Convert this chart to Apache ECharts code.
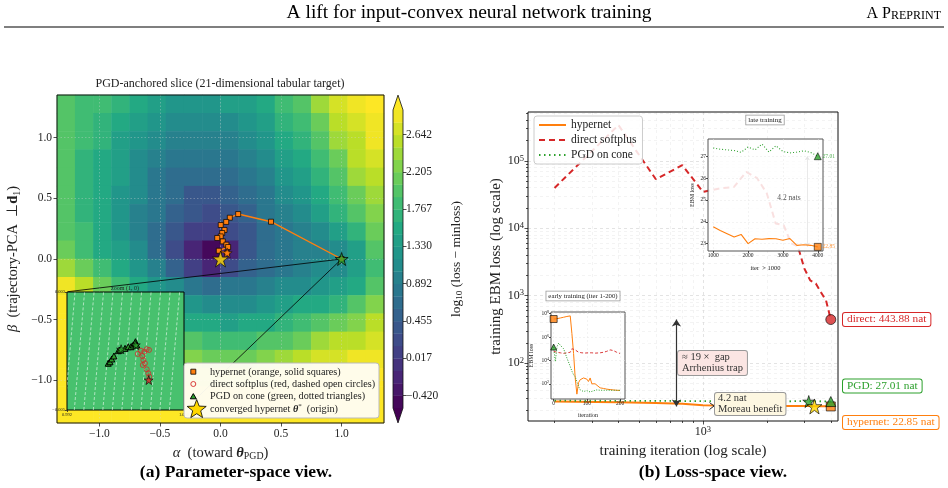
<!DOCTYPE html>
<html>
<head>
<meta charset="utf-8">
<script src="https://cdn.jsdelivr.net/npm/echarts@6/dist/echarts.min.js"></script>
<style>
  html, body { margin: 0; padding: 0; background: #fff; }
  #chart { width: 948px; height: 488px; }
</style>
</head>
<body>
<div id="chart"></div>
<script>
// ---------- panel (a): loss landscape, log10(loss - minloss) ----------
const alphaCenters = [-1.275, -1.125, -0.975, -0.825, -0.675, -0.525, -0.375, -0.225, -0.075,
                      0.075, 0.225, 0.375, 0.525, 0.675, 0.825, 0.975, 1.125, 1.275];
const betaCenters = [1.275, 1.125, 0.975, 0.825, 0.675, 0.525, 0.375, 0.225, 0.075,
                     -0.075, -0.225, -0.375, -0.525, -0.675, -0.825, -0.975, -1.125, -1.275];
// rows from top (beta = 1.275) to bottom, columns from left (alpha = -1.275) to right
const lossField = [
  [2.0, 1.9, 1.8, 1.65, 1.5, 1.4, 1.3, 1.3, 1.3, 1.35, 1.45, 1.6, 1.8, 2.05, 2.35, 2.65, 2.85, 2.95],
  [1.95, 1.85, 1.7, 1.55, 1.35, 1.2, 1.1, 1.05, 1.1, 1.15, 1.3, 1.45, 1.65, 1.9, 2.2, 2.5, 2.75, 2.9],
  [1.95, 1.8, 1.65, 1.45, 1.25, 1.05, 0.95, 0.9, 0.9, 1.0, 1.15, 1.3, 1.5, 1.75, 2.05, 2.35, 2.6, 2.85],
  [1.95, 1.75, 1.6, 1.4, 1.15, 0.95, 0.85, 0.75, 0.75, 0.85, 1.0, 1.15, 1.35, 1.6, 1.9, 2.2, 2.5, 2.75],
  [1.95, 1.75, 1.55, 1.35, 1.1, 0.85, 0.7, 0.6, 0.6, 0.7, 0.85, 1.0, 1.2, 1.45, 1.75, 2.05, 2.35, 2.6],
  [1.95, 1.75, 1.55, 1.3, 1.05, 0.8, 0.6, 0.45, 0.45, 0.55, 0.7, 0.85, 1.05, 1.3, 1.55, 1.85, 2.15, 2.45],
  [2.0, 1.75, 1.55, 1.3, 1.0, 0.75, 0.55, 0.35, 0.3, 0.4, 0.55, 0.75, 0.9, 1.1, 1.35, 1.65, 1.95, 2.3],
  [2.05, 1.8, 1.55, 1.3, 1.0, 0.7, 0.45, 0.15, 0.05, 0.2, 0.45, 0.65, 0.8, 0.95, 1.15, 1.4, 1.75, 2.1],
  [2.15, 1.85, 1.6, 1.35, 1.05, 0.7, 0.3, -0.2, -0.5, -0.15, 0.35, 0.6, 0.75, 0.9, 1.0, 1.15, 1.45, 1.95],
  [2.45, 2.1, 1.8, 1.5, 1.2, 0.9, 0.55, 0.15, -0.2, 0.2, 0.5, 0.7, 0.85, 0.95, 1.05, 1.1, 1.35, 1.85],
  [2.8, 2.5, 2.15, 1.85, 1.55, 1.3, 1.05, 0.8, 0.65, 0.75, 0.85, 0.95, 1.05, 1.15, 1.25, 1.35, 1.6, 2.0],
  [2.95, 2.8, 2.55, 2.25, 1.95, 1.65, 1.4, 1.2, 1.1, 1.1, 1.15, 1.25, 1.35, 1.5, 1.6, 1.75, 1.95, 2.25],
  [2.95, 2.95, 2.8, 2.55, 2.3, 2.05, 1.8, 1.6, 1.5, 1.45, 1.5, 1.6, 1.7, 1.85, 2.0, 2.15, 2.3, 2.5],
  [2.95, 2.95, 2.95, 2.8, 2.6, 2.4, 2.15, 1.95, 1.85, 1.8, 1.85, 1.95, 2.05, 2.2, 2.35, 2.5, 2.6, 2.75],
  [2.95, 2.95, 2.95, 2.95, 2.85, 2.65, 2.45, 2.3, 2.2, 2.15, 2.2, 2.3, 2.4, 2.55, 2.65, 2.75, 2.85, 2.9],
  [2.95, 2.95, 2.95, 2.95, 2.95, 2.85, 2.7, 2.6, 2.5, 2.5, 2.5, 2.6, 2.7, 2.8, 2.85, 2.9, 2.95, 2.95],
  [2.95, 2.95, 2.95, 2.95, 2.95, 2.95, 2.9, 2.85, 2.8, 2.8, 2.8, 2.85, 2.9, 2.95, 2.95, 2.95, 2.95, 2.95],
  [2.95, 2.95, 2.95, 2.95, 2.95, 2.95, 2.95, 2.95, 2.95, 2.95, 2.95, 2.95, 2.95, 2.95, 2.95, 2.95, 2.95, 2.95]
];
const paramTicks = [-1, -0.5, 0, 0.5, 1];
const cbTicks = [-0.420, 0.017, 0.455, 0.892, 1.330, 1.767, 2.205, 2.642];

// hypernet trajectory (alpha, beta), from the PGD point toward the origin
const hyperPath = [[1.0, 0.0], [0.417, 0.307], [0.146, 0.370], [0.077, 0.340], [0.047, 0.305],
  [0.002, 0.280], [0.033, 0.239], [0.014, 0.214], [0.002, 0.186], [-0.027, 0.173], [0.019, 0.145],
  [0.049, 0.118], [0.063, 0.099], [-0.014, 0.068], [0.055, 0.049]];
const convergedStar = [0, 0];
const hyperEndStar = [0.055, 0.05];
const pgdStar = [1, 0];

// zoom inset around (1, 0)
const zoomPgd = [[0.99482, -0.00183], [0.99494, -0.00173], [0.99506, -0.00154], [0.99521, -0.00134],
  [0.99551, -0.00098], [0.99562, -0.00093], [0.99597, -0.00082], [0.99619, -0.00071], [0.99638, -0.00071],
  [0.99653, -0.00059], [0.99665, -0.00048], [0.99668, -0.00037], [0.99677, -0.00059]];
const zoomPgdStars = [[0.99570, -0.00088], [0.99670, -0.00059]];
const zoomDirect = [[0.99761, -0.00093], [0.99745, -0.00088], [0.99729, -0.00105], [0.99706, -0.00098],
  [0.99684, -0.00120], [0.99715, -0.00134], [0.99722, -0.00161], [0.99733, -0.00183], [0.99718, -0.00195],
  [0.99745, -0.00224], [0.99756, -0.00251], [0.99763, -0.00274]];
const zoomDirectStar = [0.99759, -0.00297];
const zoomContours = [0.99185, 0.9925, 0.99315, 0.9938, 0.99445, 0.9951, 0.99575, 0.9964, 0.99705, 0.9977, 0.99835, 0.999];

// ---------- panel (b): training curves ----------
const iterMain = [200, 400, 600, 800, 1000, 1200, 1400, 1600, 1800, 2000, 2200, 2400, 2600, 2800, 3000, 3200, 3400, 3600, 3800, 4000];
const hyperLoss = [27, 26.3, 25.6, 25, 23.77, 23.6, 23.45, 23.3, 23.42, 23.0, 23.22, 23.2, 23.23, 23.22, 23.15, 23.23, 22.92, 22.95, 22.92, 22.85];
const directLoss = [39700, 339000, 53400, 86300, 34600, 39000, 41000, 68700, 55300, 32800, 11800, 11100, 6000, 5400, 2550, 1690, 1520, 1120, 850, 443.88];
const pgdLoss = [27.8, 27.7, 27.6, 27.5, 27.39, 27.33, 27.3, 27.27, 27.19, 27.43, 27.3, 27.57, 27.2, 27.49, 27.23, 27.16, 27.2, 27.26, 27.18, 27.01];

const iterEarly = [0, 5, 10, 15, 20, 30, 40, 50, 55, 60, 65, 70, 75, 80, 85, 90, 95, 100, 105, 110, 115, 120, 125, 130, 140, 150, 160, 170, 180, 190, 200];
const hyperEarly = [3.5e7, 3.6e7, 3.8e7, 4.0e7, 4.3e7, 5.0e7, 5.8e7, 6.5e7, 2e6, 4e4, 300, 13, 126, 224, 200, 316, 447, 251, 158, 316, 100, 71, 100, 71, 45, 40, 35, 32, 30, 28, 27];
const directEarly = [6e4, 6e4, 5e4, 4.5e4, 4.5e4, 4e4, 4.5e4, 5e4, 1e5, 1.2e5, 8e4, 6e4, 5e4, 5e4, 4.5e4, 4.5e4, 4.3e4, 4.2e4, 4.5e4, 5e4, 4.5e4, 4.2e4, 4.2e4, 4.3e4, 4.5e4, 5e4, 6e4, 8e4, 7e4, 5e4, 39700];
const pgdEarly = [1.4e5, 8e3, 1.5e5, 3e5, 2e5, 1e5, 1.6e4, 3e3, 1.2e3, 600, 400, 150, 60, 30, 25, 22, 24, 26, 22, 20, 17, 25, 28, 30, 28, 28, 28, 27.8, 27.8, 27.8, 27.8];

const xMajor = [1000];
const xMinor = [200, 300, 400, 500, 600, 700, 800, 900, 2000, 3000, 4000];
const yMajor = [100, 1000, 10000, 100000];
const earlyYTicks = [100, 1e4, 1e6, 1e8];
const earlyXTicks = [0, 100, 200];
const lateXTicks = [1000, 2000, 3000, 4000];
const lateYTicks = [23, 24, 25, 26, 27];

const gapIter = 750;      // x of the "19x gap" arrow
const lateGapIter = 3700; // x of the "4.2 nats" arrow
const pgdStarIter = 3150, hyperStarIter = 3350;

// ---------- style helpers ----------
const FONT = '"Liberation Serif", "Times New Roman", serif';
const INK = '#222';
const ORANGE = '#ff7f0e', RED = '#d62728', GREEN = '#2ca02c', GOLD = '#ffd700';
const STAR = 'path://M50,2L61.8,37.6L99,37.6L68.9,59.4L80.4,95L50,73L19.6,95L31.1,59.4L1,37.6L38.2,37.6Z';

const viridisStops = ['#440154', '#482475', '#414487', '#355f8d', '#2a788e', '#21918c',
                      '#22a884', '#44bf70', '#7ad151', '#bddf26', '#fde725'];
function viridis(t) {
  t = Math.max(0, Math.min(1, t));
  const p = t * 10, i = Math.min(9, Math.floor(p)), f = p - i;
  const a = viridisStops[i], b = viridisStops[i + 1];
  const ch = (h, k) => parseInt(h.slice(1 + 2 * k, 3 + 2 * k), 16);
  const c = [0, 1, 2].map(k => Math.round(ch(a, k) + (ch(b, k) - ch(a, k)) * f));
  return 'rgb(' + c.join(',') + ')';
}
// contour levels of the colour bar: three bands between labelled ticks
const levelStep = (cbTicks[1] - cbTicks[0]) / 3;
const levels = [];
for (let k = 0; k <= 24; k++) levels.push(cbTicks[0] - levelStep + k * levelStep);
const bandColors = levels.slice(0, -1).map((_, k) => viridis((k + 0.5) / 24));
const pieces = [{ lt: levels[0], color: viridis(0) }]
  .concat(bandColors.map((c, k) => ({ gte: levels[k], lt: levels[k + 1], color: c })))
  .concat([{ gte: levels[24], color: viridis(1) }]);

const heatData = [];
lossField.forEach((row, r) => row.forEach((v, c) => heatData.push([c, r, v])));

const yMinor = [];
[10, 100, 1000, 10000, 100000].forEach(d => {
  for (let m = 2; m <= 9; m++) if (d * m > 13.9 && d * m < 5.3e5) yMinor.push(d * m);
});

const pair = (xs, ys) => xs.map((x, i) => [x, ys[i]]);
const signed = (v, n) => (v < 0 ? '−' : '') + Math.abs(v).toFixed(n);
const pow10 = v => '10{sup|' + Math.round(Math.log10(v)) + '}';
const supRich = size => ({ sup: { fontFamily: FONT, fontSize: size, verticalAlign: 'top', lineHeight: size, color: INK } });

function starPts(cx, cy, R) {
  const pts = [];
  for (let i = 0; i < 10; i++) {
    const a = -Math.PI / 2 + i * Math.PI / 5, rr = i % 2 === 0 ? R : R * 0.42;
    pts.push([cx + rr * Math.cos(a), cy + rr * Math.sin(a)]);
  }
  return pts;
}

const tick = (vals, len) => ({ show: true, customValues: vals, length: len, lineStyle: { color: INK, width: 0.8 } });
const label = (vals, fmt, size, margin, extra) => Object.assign({
  show: true, customValues: vals, formatter: fmt, color: INK, fontFamily: FONT, fontSize: size, margin: margin
}, extra || {});
const noLine = { show: false, onZero: false };
const grid = o => Object.assign({ containLabel: false, outerBoundsMode: 'none' }, o);
const mathRich = size => ({
  i: { fontFamily: FONT, fontSize: size, fontStyle: 'italic', color: INK },
  b: { fontFamily: FONT, fontSize: size, fontWeight: 'bold', color: INK },
  bi: { fontFamily: FONT, fontSize: size, fontStyle: 'italic', fontWeight: 'bold', color: INK },
  s: { fontFamily: FONT, fontSize: size * 0.68, verticalAlign: 'bottom', lineHeight: size * 0.68, color: INK }
});

const chart = echarts.init(document.getElementById('chart'), null, { renderer: 'canvas' });

const option = {
  animation: false,
  textStyle: { fontFamily: FONT },
  grid: [
    grid({ left: 57, top: 95, width: 327, height: 328, show: true, borderColor: '#111', borderWidth: 1, backgroundColor: 'transparent', z: 5 }),
    grid({ left: 57, top: 95, width: 327, height: 328 }),
    grid({ left: 393, top: 110, width: 10, height: 298 }),
    grid({ left: 67, top: 292, width: 117, height: 118, show: true, backgroundColor: '#48c16e', borderColor: '#000', borderWidth: 1, z: 8 }),
    grid({ left: 528, top: 112, width: 310, height: 309, show: true, borderColor: '#111', borderWidth: 1, backgroundColor: 'transparent', z: 5 }),
    grid({ left: 708, top: 139, width: 115, height: 112, show: true, backgroundColor: 'rgba(255,255,255,0.86)', borderColor: '#555', borderWidth: 1, z: 8 }),
    grid({ left: 551, top: 312, width: 74, height: 87, show: true, backgroundColor: 'rgba(255,255,255,0.96)', borderColor: '#555', borderWidth: 1, z: 8 })
  ],
  visualMap: [{ type: 'piecewise', show: false, seriesIndex: 0, dimension: 2, pieces: pieces }],
  legend: {
    data: ['hypernet', 'direct softplus', 'PGD on cone'],
    left: 534, top: 116, orient: 'vertical', selectedMode: false,
    itemWidth: 27, itemHeight: 12, itemGap: 3, padding: [3, 6, 3, 4],
    itemStyle: { color: 'rgba(0,0,0,0)', borderColor: 'rgba(0,0,0,0)', borderWidth: 0 },
    textStyle: { fontFamily: FONT, fontSize: 11.5, color: INK },
    backgroundColor: 'rgba(255,255,255,0.85)', borderColor: '#ccc', borderWidth: 1, borderRadius: 3, z: 10
  },
  xAxis: [
    // 0: panel (a) alpha
    { gridIndex: 0, type: 'value', min: -1.35, max: 1.35, z: 3, axisLine: noLine,
      axisTick: tick(paramTicks, 3.5), axisLabel: label(paramTicks, v => signed(v, 1), 11.5, 5),
      splitLine: { show: true, lineStyle: { color: 'rgba(215,215,215,0.5)', width: 0.7, type: [1.5, 2] } },
      name: '{i|α}  (toward {bi|θ}{s|PGD})', nameLocation: 'middle', nameGap: 19,
      nameTextStyle: { color: INK, fontFamily: FONT, fontSize: 14.5, lineHeight: 17, rich: mathRich(14.5) } },
    // 1: heatmap cells
    { gridIndex: 1, type: 'category', data: alphaCenters.map(String), show: false },
    // 2: colour bar
    { gridIndex: 2, type: 'value', min: 0, max: 1, show: false },
    // 3: zoom inset
    { gridIndex: 3, type: 'value', min: 0.992, max: 1.0, z: 9, axisLine: noLine,
      axisTick: tick([0.992, 1.0], 2), axisLabel: label([0.992, 1.0], v => v.toFixed(3), 4.5, 2),
      splitLine: { show: false } },
    // 4, 5: panel (b) iterations, major / minor
    { gridIndex: 4, type: 'log', logBase: 10, min: 150, max: 4325, position: 'bottom', axisLine: noLine,
      axisTick: tick(xMajor, 3.5), axisLabel: label(xMajor, pow10, 12, 4, { lineHeight: 14, rich: supRich(8.5) }),
      splitLine: { show: true, lineStyle: { color: '#d8d8d8', width: 0.7, type: [3, 3] } },
      name: 'training iteration (log scale)', nameLocation: 'middle', nameGap: 19,
      nameTextStyle: { color: INK, fontFamily: FONT, fontSize: 15 } },
    { gridIndex: 4, type: 'log', logBase: 10, min: 150, max: 4325, position: 'bottom', axisLine: noLine,
      axisTick: tick(xMinor, 2), axisLabel: { show: false },
      splitLine: { show: true, lineStyle: { color: '#ececec', width: 0.6, type: [3, 3] } } },
    // 6: late inset
    { gridIndex: 5, type: 'value', min: 850, max: 4150, z: 9, axisLine: noLine,
      axisTick: tick(lateXTicks, 2), axisLabel: label(lateXTicks, v => String(v), 5.5, 2),
      splitLine: { show: true, lineStyle: { color: '#e6e6e6', width: 0.5, type: [2, 2] } },
      name: 'iter  > 1000', nameLocation: 'middle', nameGap: 14,
      nameTextStyle: { color: INK, fontFamily: FONT, fontSize: 6.5 } },
    // 7: early inset
    { gridIndex: 6, type: 'value', min: -8, max: 215, z: 9, axisLine: noLine,
      axisTick: tick(earlyXTicks, 2), axisLabel: label(earlyXTicks, v => String(v), 5.5, 2),
      splitLine: { show: true, lineStyle: { color: '#e6e6e6', width: 0.5, type: [2, 2] } },
      name: 'iteration', nameLocation: 'middle', nameGap: 13,
      nameTextStyle: { color: INK, fontFamily: FONT, fontSize: 6 } }
  ],
  yAxis: [
    { gridIndex: 0, type: 'value', min: -1.35, max: 1.35, z: 3, axisLine: noLine,
      axisTick: tick(paramTicks, 3.5), axisLabel: label(paramTicks, v => signed(v, 1), 11.5, 5),
      splitLine: { show: true, lineStyle: { color: 'rgba(215,215,215,0.5)', width: 0.7, type: [1.5, 2] } },
      name: '{i|β}  (trajectory-PCA  ⊥{b|d}{s|1})', nameLocation: 'middle', nameGap: 35, nameRotate: 90,
      nameTextStyle: { color: INK, fontFamily: FONT, fontSize: 14.5, lineHeight: 17, rich: mathRich(14.5) } },
    { gridIndex: 1, type: 'category', data: betaCenters.map(String), inverse: true, show: false },
    { gridIndex: 2, type: 'value', min: levels[0], max: levels[24], position: 'right', axisLine: noLine,
      axisTick: tick(cbTicks, 3.5), axisLabel: label(cbTicks, v => signed(v, 3), 11.5, 3),
      splitLine: { show: false },
      name: 'log{s|10} (loss − minloss)', nameLocation: 'middle', nameGap: 45, nameRotate: 90,
      nameTextStyle: { color: INK, fontFamily: FONT, fontSize: 13.5, lineHeight: 16, rich: mathRich(13.5) } },
    { gridIndex: 3, type: 'value', min: -0.005, max: 0.003, z: 9, axisLine: noLine,
      axisTick: tick([-0.005, 0.003], 2), axisLabel: label([-0.005, 0.003], v => signed(v, 3), 4.5, 2),
      splitLine: { show: false } },
    { gridIndex: 4, type: 'log', logBase: 10, min: 13.9, max: 5.3e5, position: 'left', axisLine: noLine,
      axisTick: tick(yMajor, 3.5), axisLabel: label(yMajor, pow10, 12, 4, { lineHeight: 14, rich: supRich(8.5) }),
      splitLine: { show: true, lineStyle: { color: '#d8d8d8', width: 0.7, type: [3, 3] } },
      name: 'training EBM loss (log scale)', nameLocation: 'middle', nameGap: 22, nameRotate: 90,
      nameTextStyle: { color: INK, fontFamily: FONT, fontSize: 15 } },
    { gridIndex: 4, type: 'log', logBase: 10, min: 13.9, max: 5.3e5, position: 'left', axisLine: noLine,
      axisTick: tick(yMinor, 2), axisLabel: { show: false },
      splitLine: { show: true, lineStyle: { color: '#ececec', width: 0.6, type: [3, 3] } } },
    { gridIndex: 5, type: 'value', min: 22.66, max: 27.8, z: 9, axisLine: noLine,
      axisTick: tick(lateYTicks, 2), axisLabel: label(lateYTicks, v => String(v), 5.5, 2),
      splitLine: { show: true, lineStyle: { color: '#e6e6e6', width: 0.5, type: [2, 2] } },
      name: 'EBM loss', nameLocation: 'middle', nameGap: 13, nameRotate: 90,
      nameTextStyle: { color: INK, fontFamily: FONT, fontSize: 6 } },
    { gridIndex: 6, type: 'log', logBase: 10, min: 5, max: 1.4e8, z: 9, axisLine: noLine,
      axisTick: tick(earlyYTicks, 2), axisLabel: label(earlyYTicks, pow10, 5.5, 2, { lineHeight: 7, rich: supRich(4) }),
      splitLine: { show: true, lineStyle: { color: '#e6e6e6', width: 0.5, type: [2, 2] } },
      name: 'EBM loss', nameLocation: 'middle', nameGap: 17, nameRotate: 90,
      nameTextStyle: { color: INK, fontFamily: FONT, fontSize: 6 } }
  ],
  series: [
    // 0: landscape
    { type: 'heatmap', xAxisIndex: 1, yAxisIndex: 1, data: heatData, z: 1, silent: true,
      itemStyle: { borderWidth: 0 }, emphasis: { disabled: true } },
    // 1: colour bar bands
    { type: 'custom', xAxisIndex: 2, yAxisIndex: 2, silent: true, z: 2,
      data: bandColors.map((_, k) => [0.5, levels[k], levels[k + 1], k]),
      encode: { x: 0, y: 1 },
      renderItem: (params, api) => {
        const p0 = api.coord([0, api.value(1)]), p1 = api.coord([1, api.value(2)]);
        return { type: 'rect', shape: { x: p0[0], y: p1[1], width: p1[0] - p0[0], height: p0[1] - p1[1] + 0.3 },
                 style: { fill: bandColors[api.value(3)] } };
      } },
    // 2: colour bar extensions + outline
    { type: 'custom', xAxisIndex: 2, yAxisIndex: 2, silent: true, z: 3, data: [[0.5, levels[0]]],
      renderItem: (params, api) => {
        const lo = levels[0], hi = levels[24], ext = (hi - lo) * 0.05;
        const bl = api.coord([0, lo]), br = api.coord([1, lo]), tl = api.coord([0, hi]), tr = api.coord([1, hi]);
        const bt = api.coord([0.5, lo - ext]), tt = api.coord([0.5, hi + ext]);
        return { type: 'group', children: [
          { type: 'polygon', shape: { points: [tl, tr, tt] }, style: { fill: viridis(1) } },
          { type: 'polygon', shape: { points: [bl, br, bt] }, style: { fill: viridis(0) } },
          { type: 'polygon', shape: { points: [bl, bt, br, tr, tt, tl] }, style: { fill: 'none', stroke: '#111', lineWidth: 0.8 } }
        ] };
      } },
    // 3: inset connector lines
    { type: 'lines', coordinateSystem: 'cartesian2d', xAxisIndex: 0, yAxisIndex: 0, z: 4, silent: true,
      data: [{ coords: [[-1.259, -0.269], pgdStar] }, { coords: [[-0.296, -1.240], pgdStar] }],
      lineStyle: { color: '#000', width: 0.8, opacity: 1 } },
    // 4: hypernet trajectory
    { type: 'line', name: 'hypernet trajectory', xAxisIndex: 0, yAxisIndex: 0, data: hyperPath, z: 6,
      symbol: 'rect', symbolSize: 5, showAllSymbol: true, silent: true,
      lineStyle: { color: ORANGE, width: 1.4 },
      itemStyle: { color: ORANGE, borderColor: '#000', borderWidth: 0.7 } },
    // 5: stars in the main view
    { type: 'scatter', xAxisIndex: 0, yAxisIndex: 0, z: 7, silent: true, symbol: STAR,
      data: [
        { value: pgdStar, symbolSize: 13, itemStyle: { color: GREEN, borderColor: '#000', borderWidth: 0.9 } },
        { value: hyperEndStar, symbolSize: 10, itemStyle: { color: ORANGE, borderColor: '#000', borderWidth: 0.6 } },
        { value: convergedStar, symbolSize: 16, itemStyle: { color: GOLD, borderColor: '#000', borderWidth: 0.8 } }
      ] },
    // 6: zoom inset contour lines
    { type: 'custom', xAxisIndex: 3, yAxisIndex: 3, z: 9, silent: true, clip: true,
      data: zoomContours.map(v => [v, 0]),
      renderItem: (params, api) => {
        const x0 = api.value(0), a = api.coord([x0, -0.005]), b = api.coord([x0 + 0.0007, 0.003]);
        return { type: 'line', shape: { x1: a[0], y1: a[1], x2: b[0], y2: b[1] },
                 style: { stroke: 'rgba(255,255,255,0.8)', lineWidth: 0.7, lineDash: [3, 2] } };
      } },
    // 7: PGD triangles in the inset
    { type: 'line', xAxisIndex: 3, yAxisIndex: 3, z: 10, data: zoomPgd, silent: true,
      symbol: 'triangle', symbolSize: 6, showAllSymbol: true,
      lineStyle: { color: GREEN, width: 0.8, type: [1, 1.5] },
      itemStyle: { color: GREEN, borderColor: '#000', borderWidth: 1 } },
    // 8: direct softplus circles in the inset
    { type: 'line', xAxisIndex: 3, yAxisIndex: 3, z: 10, data: zoomDirect, silent: true,
      symbol: 'circle', symbolSize: 5, showAllSymbol: true,
      lineStyle: { color: RED, width: 0.6, type: [2, 1.5] },
      itemStyle: { color: 'rgba(0,0,0,0)', borderColor: RED, borderWidth: 0.8 } },
    // 9: stars in the inset
    { type: 'scatter', xAxisIndex: 3, yAxisIndex: 3, z: 11, silent: true, symbol: STAR,
      data: zoomPgdStars.map(p => ({ value: p, symbolSize: 9, itemStyle: { color: GREEN, borderColor: '#000', borderWidth: 0.8 } }))
        .concat([{ value: zoomDirectStar, symbolSize: 9, itemStyle: { color: RED, borderColor: '#000', borderWidth: 0.8 } }]) },
    // 10-12: panel (b) main curves
    { type: 'line', name: 'hypernet', xAxisIndex: 4, yAxisIndex: 4, data: pair(iterMain, hyperLoss), z: 3,
      symbol: 'none', lineStyle: { color: ORANGE, width: 2 }, itemStyle: { color: ORANGE },
      markLine: { silent: true, symbol: ['arrow', 'arrow'], symbolSize: 7, label: { show: false },
        lineStyle: { color: '#333', width: 1.2, type: 'solid' },
        data: [[{ coord: [gapIter, 22.85] }, { coord: [gapIter, 443.88] }]] } },
    { type: 'line', name: 'direct softplus', xAxisIndex: 4, yAxisIndex: 4, data: pair(iterMain, directLoss), z: 3,
      symbol: 'none', lineStyle: { color: RED, width: 2, type: [6, 4] }, itemStyle: { color: RED } },
    { type: 'line', name: 'PGD on cone', xAxisIndex: 4, yAxisIndex: 4, data: pair(iterMain, pgdLoss), z: 3,
      symbol: 'none', lineStyle: { color: GREEN, width: 1.8, type: [1.5, 3.5] }, itemStyle: { color: GREEN } },
    // 13: end markers
    { type: 'scatter', xAxisIndex: 4, yAxisIndex: 4, z: 6, silent: true,
      data: [
        { value: [iterMain[19], directLoss[19]], symbol: 'circle', symbolSize: 10, itemStyle: { color: RED, borderColor: '#000', borderWidth: 0.8 } },
        { value: [pgdStarIter, pgdLoss[19]], symbol: STAR, symbolSize: 12, itemStyle: { color: GREEN, borderColor: '#000', borderWidth: 0.8 } },
        { value: [hyperStarIter, hyperLoss[19]], symbol: STAR, symbolSize: 15, itemStyle: { color: GOLD, borderColor: '#000', borderWidth: 0.8 } },
        { value: [iterMain[19], hyperLoss[19]], symbol: 'rect', symbolSize: 9, itemStyle: { color: ORANGE, borderColor: '#000', borderWidth: 0.8 } },
        { value: [iterMain[19], pgdLoss[19]], symbol: 'triangle', symbolSize: 10, itemStyle: { color: GREEN, borderColor: '#000', borderWidth: 0.8 } }
      ] },
    // 14-16: late-training inset
    { type: 'line', name: 'hypernet', xAxisIndex: 6, yAxisIndex: 6, data: pair(iterMain.slice(4), hyperLoss.slice(4)), z: 10,
      symbol: 'none', lineStyle: { color: ORANGE, width: 1.1 }, itemStyle: { color: ORANGE },
      markLine: { silent: true, symbol: ['arrow', 'arrow'], symbolSize: 4, label: { show: false },
        lineStyle: { color: '#444', width: 0.8, type: 'solid' },
        data: [[{ coord: [lateGapIter, 22.85] }, { coord: [lateGapIter, 27.01] }]] } },
    { type: 'line', name: 'PGD on cone', xAxisIndex: 6, yAxisIndex: 6, data: pair(iterMain.slice(4), pgdLoss.slice(4)), z: 10,
      symbol: 'none', lineStyle: { color: GREEN, width: 1.1, type: [1, 2] }, itemStyle: { color: GREEN } },
    { type: 'scatter', xAxisIndex: 6, yAxisIndex: 6, z: 11, silent: true,
      label: { show: true, position: 'right', distance: 1, fontFamily: FONT, fontSize: 5.5 },
      data: [
        { value: [iterMain[19], pgdLoss[19]], symbol: 'triangle', symbolSize: 7,
          itemStyle: { color: GREEN, borderColor: '#000', borderWidth: 0.7 },
          label: { formatter: pgdLoss[19].toFixed(2), color: GREEN } },
        { value: [iterMain[19], hyperLoss[19]], symbol: 'rect', symbolSize: 7,
          itemStyle: { color: ORANGE, borderColor: '#000', borderWidth: 0.7 },
          label: { formatter: hyperLoss[19].toFixed(2), color: ORANGE } }
      ] },
    // 17-20: early-training inset
    { type: 'line', name: 'hypernet', xAxisIndex: 7, yAxisIndex: 7, data: pair(iterEarly, hyperEarly), z: 10,
      symbol: 'none', lineStyle: { color: ORANGE, width: 1 }, itemStyle: { color: ORANGE } },
    { type: 'line', name: 'direct softplus', xAxisIndex: 7, yAxisIndex: 7, data: pair(iterEarly, directEarly), z: 10,
      symbol: 'none', lineStyle: { color: RED, width: 0.9, type: [3, 2] }, itemStyle: { color: RED } },
    { type: 'line', name: 'PGD on cone', xAxisIndex: 7, yAxisIndex: 7, data: pair(iterEarly, pgdEarly), z: 10,
      symbol: 'none', lineStyle: { color: GREEN, width: 1, type: [1, 1.5] }, itemStyle: { color: GREEN } },
    { type: 'scatter', xAxisIndex: 7, yAxisIndex: 7, z: 11, silent: true,
      data: [
        { value: [iterEarly[0], hyperEarly[0]], symbol: 'rect', symbolSize: 7, itemStyle: { color: ORANGE, borderColor: '#000', borderWidth: 0.8 } },
        { value: [iterEarly[0], pgdEarly[0]], symbol: 'triangle', symbolSize: 6, itemStyle: { color: GREEN, borderColor: '#000', borderWidth: 0.8 } }
      ] }
  ],
  graphic: [
    { type: 'text', x: 469, y: 13, z: 50, silent: true,
      style: { text: 'A lift for input-convex neural network training', align: 'center', verticalAlign: 'middle',
               fontFamily: FONT, fontSize: 19.5, fill: '#000' } },
    { type: 'text', x: 941, y: 14, z: 50, silent: true,
      style: { text: 'A P{sc|REPRINT}', align: 'right', verticalAlign: 'middle', fontFamily: FONT, fontSize: 16,
               lineHeight: 16, fill: '#000',
               rich: { sc: { fontFamily: FONT, fontSize: 12, lineHeight: 12, verticalAlign: 'bottom', fill: '#000' } } } },
    { type: 'line', z: 50, silent: true, shape: { x1: 4, y1: 27, x2: 944, y2: 27 }, style: { stroke: '#000', lineWidth: 1.2 } },
    { type: 'text', x: 220, y: 84, z: 50, silent: true,
      style: { text: 'PGD-anchored slice (21-dimensional tabular target)', align: 'center', verticalAlign: 'middle',
               fontFamily: FONT, fontSize: 12, fill: INK } },
    { type: 'text', x: 236, y: 472, z: 50, silent: true,
      style: { text: '(a) Parameter-space view.', align: 'center', verticalAlign: 'middle',
               fontFamily: FONT, fontSize: 17.5, fontWeight: 'bold', fill: '#000' } },
    { type: 'text', x: 713, y: 472, z: 50, silent: true,
      style: { text: '(b) Loss-space view.', align: 'center', verticalAlign: 'middle',
               fontFamily: FONT, fontSize: 17.5, fontWeight: 'bold', fill: '#000' } },
    { type: 'text', x: 125, y: 288, z: 50, silent: true,
      style: { text: 'zoom (1, 0)', align: 'center', verticalAlign: 'middle', fontFamily: FONT, fontSize: 6, fill: INK } },
    // panel (a) legend
    { type: 'group', z: 60, silent: true, children: [
      { type: 'rect', z: 60, shape: { x: 184, y: 363, width: 195, height: 55, r: 3 },
        style: { fill: 'rgba(255,253,242,0.96)', stroke: '#bbb', lineWidth: 1 } },
      { type: 'rect', z: 61, shape: { x: 190.8, y: 369.2, width: 5, height: 5 }, style: { fill: ORANGE, stroke: '#000', lineWidth: 0.8 } },
      { type: 'circle', z: 61, shape: { cx: 193.3, cy: 384, r: 2.5 }, style: { fill: 'none', stroke: RED, lineWidth: 0.9 } },
      { type: 'polygon', z: 61, shape: { points: [[193.3, 393.6], [196.3, 398.8], [190.3, 398.8]] }, style: { fill: GREEN, stroke: '#000', lineWidth: 1 } },
      { type: 'polygon', z: 61, shape: { points: starPts(196.7, 409.5, 10) }, style: { fill: GOLD, stroke: '#000', lineWidth: 0.8 } },
      { type: 'text', z: 61, x: 210, y: 372, style: { text: 'hypernet (orange, solid squares)', verticalAlign: 'middle', fontFamily: FONT, fontSize: 10.2, fill: INK } },
      { type: 'text', z: 61, x: 210, y: 384.3, style: { text: 'direct softplus (red, dashed open circles)', verticalAlign: 'middle', fontFamily: FONT, fontSize: 10.2, fill: INK } },
      { type: 'text', z: 61, x: 210, y: 396.6, style: { text: 'PGD on cone (green, dotted triangles)', verticalAlign: 'middle', fontFamily: FONT, fontSize: 10.2, fill: INK } },
      { type: 'text', z: 61, x: 210, y: 409, style: { text: 'converged hypernet {b|θ}{sup|*}  (origin)', verticalAlign: 'middle',
          fontFamily: FONT, fontSize: 10.2, lineHeight: 12, fill: INK,
          rich: { b: { fontFamily: FONT, fontSize: 10.2, fontWeight: 'bold', fontStyle: 'italic', fill: INK },
                  sup: { fontFamily: FONT, fontSize: 7, lineHeight: 7, verticalAlign: 'top', fill: INK } } } }
    ] },
    // panel (b) annotations
    { type: 'text', x: 678, y: 351, z: 50, silent: true,
      style: { text: '≈ 19 ×  gap\nArrhenius trap', align: 'left', verticalAlign: 'top', fontFamily: FONT, fontSize: 10.5,
               lineHeight: 11, fill: '#333', backgroundColor: '#fbe5e3', borderColor: '#999', borderWidth: 1,
               borderRadius: 2, padding: [1, 4, 1, 4] } },
    { type: 'text', x: 715, y: 393, z: 50, silent: true,
      style: { text: '4.2 nat\nMoreau benefit', align: 'left', verticalAlign: 'top', fontFamily: FONT, fontSize: 10.5,
               lineHeight: 11, fill: '#333', backgroundColor: '#fdf7e1', borderColor: '#999', borderWidth: 1,
               borderRadius: 2, padding: [0, 3, 0, 3] } },
    { type: 'polyline', z: 50, silent: true, shape: { points: [[709.5, 402.5], [714, 406], [709.5, 409.5]] },
      style: { stroke: '#222', lineWidth: 1, fill: 'none' } },
    { type: 'text', x: 765, y: 120, z: 50, silent: true,
      style: { text: 'late training', align: 'center', verticalAlign: 'middle', fontFamily: FONT, fontSize: 7,
               fill: INK, backgroundColor: '#fff', borderColor: '#999', borderWidth: 0.8, padding: [1, 2, 1, 2] } },
    { type: 'text', x: 583, y: 296, z: 50, silent: true,
      style: { text: 'early training (iter 1-200)', align: 'center', verticalAlign: 'middle', fontFamily: FONT, fontSize: 6.8,
               fill: INK, backgroundColor: '#fff', borderColor: '#999', borderWidth: 0.8, padding: [1, 2, 1, 2] } },
    { type: 'text', x: 789, y: 198, z: 50, silent: true,
      style: { text: '4.2 nats', align: 'center', verticalAlign: 'middle', fontFamily: FONT, fontSize: 7.5, fill: '#555' } },
    { type: 'text', x: 843, y: 319.5, z: 50, silent: true,
      style: { text: 'direct: 443.88 nat', verticalAlign: 'middle', fontFamily: FONT, fontSize: 11.3, fill: RED,
               backgroundColor: '#fff', borderColor: RED, borderWidth: 1, borderRadius: 2, padding: [1, 4, 1, 4] } },
    { type: 'text', x: 843, y: 386, z: 50, silent: true,
      style: { text: 'PGD: 27.01 nat', verticalAlign: 'middle', fontFamily: FONT, fontSize: 11.3, fill: GREEN,
               backgroundColor: '#fff', borderColor: GREEN, borderWidth: 1, borderRadius: 2, padding: [1, 4, 1, 4] } },
    { type: 'text', x: 843, y: 422.5, z: 50, silent: true,
      style: { text: 'hypernet: 22.85 nat', verticalAlign: 'middle', fontFamily: FONT, fontSize: 11.3, fill: ORANGE,
               backgroundColor: '#fff', borderColor: ORANGE, borderWidth: 1, borderRadius: 2, padding: [1, 4, 1, 4] } }
  ]
};

chart.setOption(option);
window.addEventListener('resize', () => chart.resize());
</script>
</body>
</html>
